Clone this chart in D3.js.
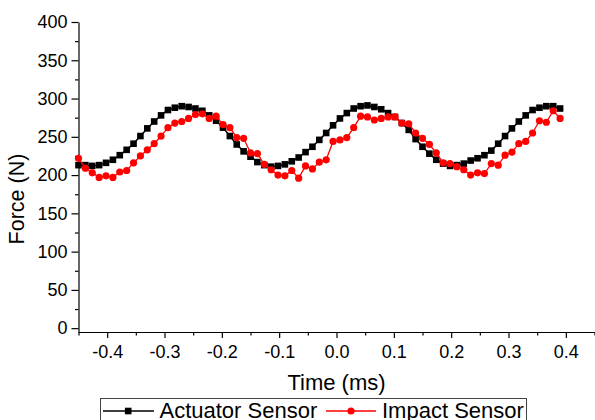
<!DOCTYPE html>
<html>
<head>
<meta charset="utf-8">
<script src="https://cdn.jsdelivr.net/npm/d3@7"></script>
<style>
body { margin: 0; background: #fff; }
svg { display: block; font-family: "Liberation Sans", Arial, sans-serif; }
</style>
</head>
<body>
<svg id="chart" width="595" height="420"></svg>
<script>
// sample times (ms)
var times = [-0.45, -0.438, -0.426, -0.414, -0.402, -0.39, -0.378, -0.366, -0.354, -0.342,
  -0.33, -0.318, -0.306, -0.294, -0.282, -0.27, -0.258, -0.246, -0.234, -0.222,
  -0.21, -0.198, -0.186, -0.174, -0.162, -0.15, -0.138, -0.126, -0.114, -0.102,
  -0.09, -0.078, -0.066, -0.054, -0.042, -0.03, -0.018, -0.006, 0.006, 0.018,
  0.03, 0.042, 0.054, 0.066, 0.078, 0.09, 0.102, 0.114, 0.126, 0.138,
  0.15, 0.162, 0.174, 0.186, 0.198, 0.21, 0.222, 0.234, 0.246, 0.258,
  0.27, 0.282, 0.294, 0.306, 0.318, 0.33, 0.342, 0.354, 0.366, 0.378, 0.39];

// force (N)
var actuator = [213, 213, 212, 213, 216, 220, 226, 233, 241, 251,
  261, 270, 278, 285, 288, 290, 289, 287, 284, 278,
  271, 262, 251, 240, 231, 224, 217, 213, 211, 212,
  214, 218, 223, 230, 237, 246, 255, 265, 274, 281,
  287, 290, 291, 289, 286, 281, 276, 268, 259, 247,
  237, 228, 220, 215, 212, 213, 215, 219, 222, 226,
  232, 241, 251, 261, 270, 278, 285, 288, 290, 290, 287];

var impact = [222, 209, 203, 197, 199, 197, 204, 206, 216, 225,
  233, 241, 251, 262, 268, 270, 274, 279, 280, 274,
  277, 266, 262, 249, 248, 229, 228, 214, 207, 200,
  199, 206, 196, 212, 208, 217, 220, 244, 246, 249,
  262, 277, 276, 272, 274, 276, 276, 268, 267, 255,
  248, 240, 229, 216, 215, 211, 207, 200, 203, 202,
  215, 213, 226, 230, 241, 244, 255, 271, 269, 284, 274];

var seriesNames = ["Actuator Sensor", "Impact Sensor"];
var xTicks = [-0.4, -0.3, -0.2, -0.1, 0, 0.1, 0.2, 0.3, 0.4];
var xMinor = [-0.45, -0.35, -0.25, -0.15, -0.05, 0.05, 0.15, 0.25, 0.35, 0.45];
var yTicks = [0, 50, 100, 150, 200, 250, 300, 350, 400];
var yMinor = [25, 75, 125, 175, 225, 275, 325, 375];

var svg = d3.select("#chart");

var x = d3.scaleLinear().domain([-0.45, 0.45]).range([78.5, 594.5]);
var y = d3.scaleLinear().domain([-5, 400]).range([332, 22]);

// minor ticks first
svg.append("g")
  .attr("transform", "translate(0,332)")
  .call(d3.axisBottom(x).tickValues(xMinor).tickSize(3.5).tickFormat(""))
  .call(function(g){ g.select(".domain").remove(); });
svg.append("g")
  .attr("transform", "translate(78.5,0)")
  .call(d3.axisLeft(y).tickValues(yMinor).tickSize(3.5).tickFormat(""))
  .call(function(g){ g.select(".domain").remove(); });

var xAxis = svg.append("g")
  .attr("transform", "translate(0,332)")
  .call(d3.axisBottom(x).tickValues(xTicks).tickSize(6).tickPadding(7).tickSizeOuter(0)
    .tickFormat(function(d){ return d.toFixed(1); }));
var yAxis = svg.append("g")
  .attr("transform", "translate(78.5,0)")
  .call(d3.axisLeft(y).tickValues(yTicks).tickSize(7).tickPadding(4).tickSizeOuter(0));

svg.selectAll(".tick line, .domain").attr("stroke", "#000").attr("stroke-width", 1.2);
svg.selectAll(".tick text").attr("font-size", 18).attr("fill", "#000")
  .attr("font-family", "Liberation Sans, Arial, sans-serif");

// axis titles
svg.append("text")
  .attr("x", 336.5).attr("y", 390)
  .attr("text-anchor", "middle")
  .attr("font-size", 22)
  .text("Time (ms)");
svg.append("text")
  .attr("transform", "translate(24,199) rotate(-90)")
  .attr("text-anchor", "middle")
  .attr("font-size", 21.5)
  .text("Force (N)");

var line = d3.line()
  .x(function(d){ return x(d[0]); })
  .y(function(d){ return y(d[1]); });

var actData = times.map(function(t, i){ return [t, actuator[i]]; });
var impData = times.map(function(t, i){ return [t, impact[i]]; });

// actuator sensor: black squares
svg.append("path").datum(actData)
  .attr("d", line).attr("fill", "none").attr("stroke", "#000").attr("stroke-width", 1.5);
svg.selectAll("rect.act").data(actData).enter().append("rect")
  .attr("class", "act")
  .attr("x", function(d){ return x(d[0]) - 3.3; })
  .attr("y", function(d){ return y(d[1]) - 3.3; })
  .attr("width", 6.6).attr("height", 6.6)
  .attr("fill", "#000");

// impact sensor: red circles
svg.append("path").datum(impData)
  .attr("d", line).attr("fill", "none").attr("stroke", "#ff0000").attr("stroke-width", 1.3);
svg.selectAll("circle.imp").data(impData).enter().append("circle")
  .attr("class", "imp")
  .attr("cx", function(d){ return x(d[0]); })
  .attr("cy", function(d){ return y(d[1]); })
  .attr("r", 3.6)
  .attr("fill", "#ff0000");

// legend
var legend = svg.append("g");
legend.append("rect")
  .attr("x", 100.5).attr("y", 398.5).attr("width", 426).attr("height", 30)
  .attr("fill", "#fff").attr("stroke", "#444").attr("stroke-width", 1);
legend.append("line").attr("x1", 103).attr("x2", 154).attr("y1", 411).attr("y2", 411)
  .attr("stroke", "#000").attr("stroke-width", 1.5);
legend.append("rect").attr("x", 128.2 - 3.3).attr("y", 411 - 3.3).attr("width", 6.6).attr("height", 6.6)
  .attr("fill", "#000");
legend.append("text").attr("x", 159.5).attr("y", 418).attr("font-size", 22).text(seriesNames[0]);
legend.append("line").attr("x1", 326).attr("x2", 376).attr("y1", 411).attr("y2", 411)
  .attr("stroke", "#ff0000").attr("stroke-width", 1.3);
legend.append("circle").attr("cx", 351).attr("cy", 411).attr("r", 3.6).attr("fill", "#ff0000");
legend.append("text").attr("x", 382).attr("y", 418).attr("font-size", 22).text(seriesNames[1]);
</script>
</body>
</html>
